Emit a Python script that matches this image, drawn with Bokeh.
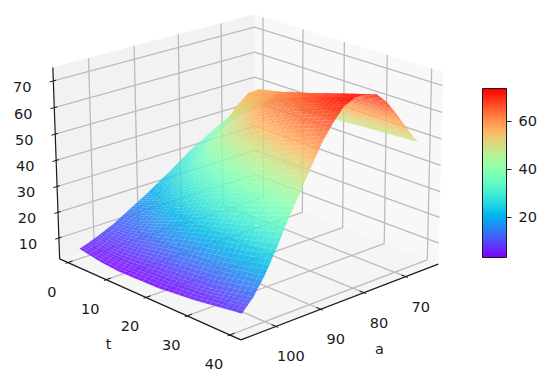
import numpy as np
from bokeh.plotting import figure
from bokeh.models import ColumnDataSource, LinearColorMapper, ColorBar, FixedTicker
from bokeh.core.properties import value
from bokeh.embed import file_html
from bokeh.resources import INLINE

# ---- data
a_values = [65, 67.5, 70, 72.5, 75, 77.5, 80, 82.5, 85, 87.5, 90, 92.5, 95, 97.5, 100, 102.5, 105]
t_values = [0, 5, 10, 20, 30, 40]
z_t0  = [44, 41.8, 39.5, 37.3, 35, 32.6, 30, 27, 24, 21.3, 18.5, 16, 13.5, 11, 9, 7.2, 5.7]
z_t5  = [44.5, 44.5, 44, 43.5, 42, 39.5, 36.5, 33.5, 29.5, 26, 22, 18.5, 15, 11.8, 8.7, 6, 4.2]
z_t10 = [45.5, 49.5, 53.5, 56.5, 56.3, 53, 47, 43, 38, 33, 28, 23, 18.5, 14, 10, 6, 3.5]
z_t20 = [47, 52, 57, 60, 62, 62.5, 61.5, 57.5, 52, 44, 37, 31, 25, 19, 13, 7.5, 3.8]
z_t30 = [48, 54, 60, 64, 66.5, 68, 68, 65, 60, 53, 45, 37.5, 30, 23, 15.5, 9, 5.5]
z_t40 = [49, 55, 61.5, 67.5, 71.7, 73, 73, 71, 66, 60, 52, 44, 36, 27, 19, 12.5, 8]
a_ticks = [70, 80, 90, 100]
t_ticks = [0, 10, 20, 30, 40]
z_ticks = [10, 20, 30, 40, 50, 60, 70]
cbar_ticks = [20, 40, 60]
z_min, z_max = 3.2, 73.6
a_lim = (62.0, 107.6)
t_lim = (-2.2, 42.5)
z_lim = (1.8, 75.0)

# ---- camera: fitted to where the box corners sit on the page
a0, a1 = a_lim; t0, t1 = t_lim; z0, z1 = z_lim
anchors = [
    ((a1, t1, z0), (240, 339)), ((a1, t0, z0), (59, 258)), ((a0, t1, z0), (438, 263)),
    ((a0, t0, z0), (255, 194)), ((a1, t0, z1), (53, 67)), ((a0, t1, z1), (443, 72)),
    ((a0, t0, z1), (253, 14)),
    ((a1, 0, z0), (68, 263)), ((a1, 20, z0), (146, 297)), ((a1, 40, z0), (229, 335)),
    ((70, t1, z0), (405, 276)), ((90, t1, z0), (320, 309)),
    ((a1, t0, 10), (58, 237)), ((a1, t0, 40), (55, 160)), ((a1, t0, 70), (53, 80)),
]

def norm(a, t, z):
    return (np.asarray(a, float) - a0) / (a1 - a0), (np.asarray(t, float) - t0) / (t1 - t0), (np.asarray(z, float) - z0) / (z1 - z0)

rows = []
for (w, px) in anchors:
    u, v, s = norm(*w)
    X = [float(u), float(v), float(s), 1.0]
    x, y = px[0] / 500.0, px[1] / 500.0
    rows.append(X + [0, 0, 0, 0] + [-x * c for c in X])
    rows.append([0, 0, 0, 0] + X + [-y * c for c in X])
P = np.linalg.svd(np.array(rows))[2][-1].reshape(3, 4)

def project(a, t, z):
    u, v, s = norm(a, t, z)
    h = P[2, 0] * u + P[2, 1] * v + P[2, 2] * s + P[2, 3]
    return 500 * (P[0, 0] * u + P[0, 1] * v + P[0, 2] * s + P[0, 3]) / h, 500 * (P[1, 0] * u + P[1, 1] * v + P[1, 2] * s + P[1, 3]) / h

# ---- figure
W, H = 550, 383
p = figure(width=W, height=H, x_range=(0, W), y_range=(H, 0), toolbar_location=None,
           output_backend="svg", min_border=0)
p.axis.visible = False
p.grid.visible = False
p.outline_line_color = None

def pane(c1, c2, c3, c4, color):
    pts = [project(*c) for c in (c1, c2, c3, c4)]
    p.patch([float(q[0]) for q in pts], [float(q[1]) for q in pts], fill_color=color, line_color=color, line_width=0.5)

pane((a1, t0, z0), (a0, t0, z0), (a0, t0, z1), (a1, t0, z1), "#f2f2f2")
pane((a0, t0, z0), (a0, t1, z0), (a0, t1, z1), (a0, t0, z1), "#f8f8f8")
pane((a1, t0, z0), (a1, t1, z0), (a0, t1, z0), (a0, t0, z0), "#f5f5f5")

def segs(lst, color, width):
    xs, ys = [], []
    for pts in lst:
        q = [project(*c) for c in pts]
        xs.append([float(k[0]) for k in q]); ys.append([float(k[1]) for k in q])
    p.multi_line(xs, ys, line_color=color, line_width=width)

grid = []
for a in a_ticks:
    grid.append([(a, t0, z1), (a, t0, z0), (a, t1, z0)])
for t in t_ticks:
    grid.append([(a0, t, z1), (a0, t, z0), (a1, t, z0)])
for z in z_ticks:
    grid.append([(a1, t0, z), (a0, t0, z), (a0, t1, z)])
segs(grid, "#bbbbbb", 1.3)

# ---- surface
Z = np.array([z_t0, z_t5, z_t10, z_t20, z_t30, z_t40], float)
sub_a = 5
sub_t = {5.0: 4, 10.0: 8}
A = [a_values[i] + (a_values[i + 1] - a_values[i]) * k / sub_a for i in range(len(a_values) - 1) for k in range(sub_a)] + [a_values[-1]]
T = [t_values[i] + (t_values[i + 1] - t_values[i]) * k / sub_t[float(t_values[i + 1] - t_values[i])]
     for i in range(len(t_values) - 1) for k in range(sub_t[float(t_values[i + 1] - t_values[i])])] + [t_values[-1]]
A = np.array(A); T = np.array(T)
ZZ = np.array([[np.interp(aa, a_values, Z[j]) for aa in A] for j in range(len(t_values))])
ZF = np.array([[np.interp(tt, t_values, ZZ[:, i]) for i in range(len(A))] for tt in T])
AA, TT = np.meshgrid(A, T)
PX, PY = project(AA, TT, ZF)
quads = []
for j in range(len(T) - 1):
    for i in range(len(A) - 1):
        zm = ZF[j:j + 2, i:i + 2].mean()
        un, vn, sn = norm(AA[j:j + 2, i:i + 2].mean(), TT[j:j + 2, i:i + 2].mean(), zm)
        quads.append((float(un + vn + 0.3 * sn), i, j, float(zm)))
quads.sort()
xs = [[float(PX[j, i]), float(PX[j, i + 1]), float(PX[j + 1, i + 1]), float(PX[j + 1, i])] for _, i, j, _ in quads]
ys = [[float(PY[j, i]), float(PY[j, i + 1]), float(PY[j + 1, i + 1]), float(PY[j + 1, i])] for _, i, j, _ in quads]
zs = [q[3] for q in quads]

x = np.linspace(0, 1, 256)
rainbow = ["#%02x%02x%02x" % tuple(int(round(255 * np.clip(c, 0, 1))) for c in (abs(2 * v - 0.5), np.sin(np.pi * v), np.cos(np.pi * v / 2))) for v in x]
mapper = LinearColorMapper(palette=rainbow, low=z_min, high=z_max)
p.patches("xs", "ys", source=ColumnDataSource(dict(xs=xs, ys=ys, z=zs)),
          fill_color={"field": "z", "transform": mapper}, fill_alpha=0.88, line_color=None)

# ---- axes
axes = [[(a1, t0, z0), (a1, t0, z1)], [(a1, t0, z0), (a1, t1, z0)], [(a1, t1, z0), (a0, t1, z0)]]
ticks = [[(a1 - 1.0, t, z0), (a1 + 0.5, t, z0)] for t in t_ticks]
ticks += [[(a, t1 - 1.0, z0), (a, t1 + 0.5, z0)] for a in a_ticks]
ticks += [[(a1 - 0.6, t0, z), (a1 + 0.8, t0, z)] for z in z_ticks]
segs(axes, "#1a1a1a", 1.2)
segs(ticks, "#1a1a1a", 1.0)

def labels(pts, texts, dx, dy):
    q = [project(*c) for c in pts]
    p.text([float(k[0]) for k in q], [float(k[1]) for k in q], text=texts, x_offset=dx, y_offset=dy,
           text_font=value("DejaVu Sans"), text_font_size="14.5px", text_align="center",
           text_baseline="middle", text_color="#1a1a1a")

labels([(a1, t, z0) for t in t_ticks], [str(t) for t in t_ticks], -16, 29)
labels([(a, t1, z0) for a in a_ticks], [str(a) for a in a_ticks], 15, 30)
labels([(a1, t0, z) for z in z_ticks], [str(z) for z in z_ticks], -31, 6)
labels([(a1, (t0 + t1) / 2, z0)], ["t"], -38, 46)
labels([((a0 + a1) / 2, t1, z0)], ["a"], 36, 48)

bar = ColorBar(color_mapper=mapper, ticker=FixedTicker(ticks=cbar_ticks), width=24, height=169,
               location=(482, 126), padding=0, margin=0, background_fill_color=None, border_line_color=None,
               bar_line_color="#1a1a1a", bar_line_width=1, major_tick_line_color="#1a1a1a",
               major_tick_in=0, major_tick_out=5, minor_tick_line_color=None,
               major_label_text_font="DejaVu Sans", major_label_text_font_size="14.5px",
               major_label_text_color="#1a1a1a", label_standoff=7)
p.add_layout(bar, "center")

open("out.html", "w").write(file_html(p, INLINE))
